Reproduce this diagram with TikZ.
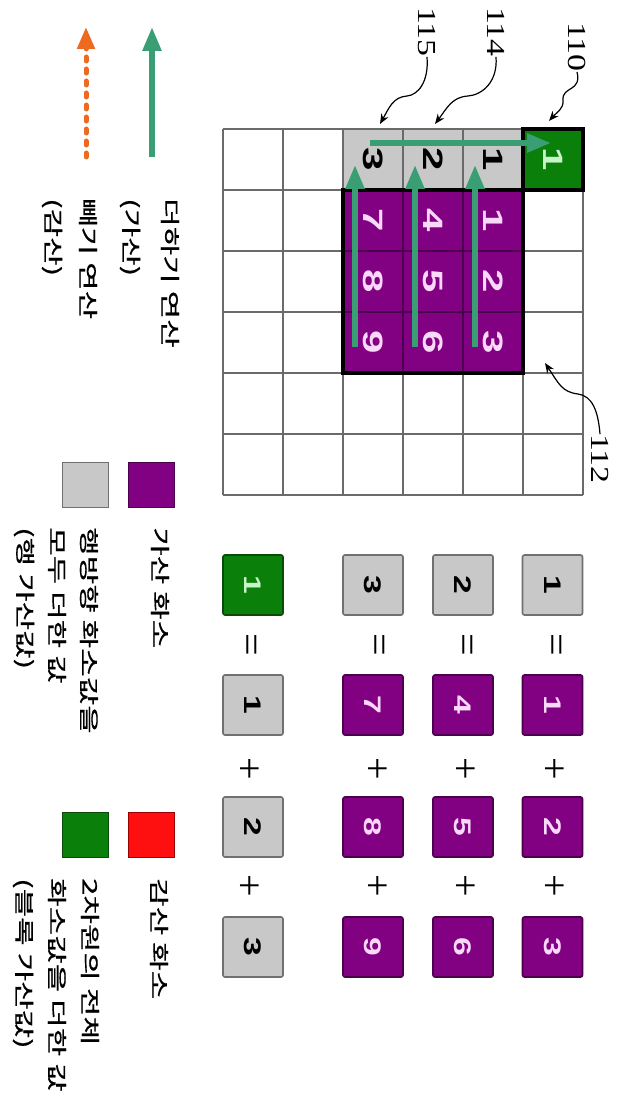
\documentclass[tikz,border=0pt]{standalone}
\usepackage{fontspec}
\setmainfont{Liberation Serif}
\newfontfamily\krfont[FakeBold=0.6]{Noto Sans CJK KR}
\newfontfamily\digfont{Liberation Sans}
\usetikzlibrary{arrows.meta}
\definecolor{purp}{HTML}{820082}
\definecolor{purpline}{HTML}{4A004A}
\definecolor{lgray}{HTML}{C8C8C8}
\definecolor{boxgray}{HTML}{707070}
\definecolor{gline}{HTML}{6A6A6A}
\definecolor{dgreen}{HTML}{0A800A}
\definecolor{dgreenline}{HTML}{0A4A0A}
\definecolor{arrgreen}{HTML}{3A9E74}
\definecolor{arrorange}{HTML}{EE6A1E}
\definecolor{pinktxt}{HTML}{FAD8FA}
\definecolor{lgreentxt}{HTML}{C8F5C8}
\definecolor{lred}{HTML}{FF1010}
\newcommand\rtxt[2][1.5]{\rotatebox{-90}{\scalebox{#1}[1]{#2}}}
\begin{document}
\begin{tikzpicture}[x=1pt,y=-1pt,
  gcell/.style={minimum width=60pt,minimum height=61pt,inner sep=0pt,outer sep=0pt,
    font=\digfont\bfseries\fontsize{28}{28}\selectfont},
  graycell/.style={gcell,fill=lgray,text=black},
  purpcell/.style={gcell,fill=purp,draw=purpline,line width=1.2pt,text=pinktxt},
  gridline/.style={draw=gline,line width=2.4pt},
  garrow/.style={draw=arrgreen,line width=5.5pt,-{Triangle[length=24pt,width=18pt]}},
  oarrow/.style={draw=arrorange,line width=5pt,line cap=round,dash pattern=on 4pt off 8pt,
    -{Triangle[length=22pt,width=17pt,fill=arrorange]}},
  leader/.style={draw=black,line width=1.2pt,-{Stealth[length=10pt,width=8pt]}},
  reflabel/.style={inner sep=0pt,font=\fontsize{26}{26}\selectfont},
  ktext/.style={inner sep=0pt,anchor=north,font=\krfont\fontsize{20}{22}\selectfont},
  lsq/.style={minimum width=46pt,minimum height=45pt,inner sep=0pt,line width=1pt},
  eqbox/.style={minimum size=60pt,inner sep=0pt,rounded corners=2pt,line width=1.6pt,
    font=\digfont\bfseries\fontsize{24}{24}\selectfont},
  eqgray/.style={eqbox,fill=lgray,draw=boxgray,text=black},
  eqpurp/.style={eqbox,fill=purp,draw=purpline,text=pinktxt},
  eqgreen/.style={eqbox,fill=dgreen,draw=dgreenline,text=lgreentxt},
  sign/.style={inner sep=0pt,font=\fontsize{40}{40}\selectfont}]
\useasboundingbox (0,0) rectangle (616,1099);
\fill[white] (0,0) rectangle (616,1099);

% ---- grid: gray cells (row sums)
\node[graycell] (g1) at (493,159.5) {\rtxt{1}};
\node[graycell] (g2) at (433,159.5) {\rtxt{2}};
\node[graycell] (g3) at (373,159.5) {\rtxt{3}};
% grid lines
\foreach \i in {0,...,6} {
  \draw[gridline] (223+60*\i,129) -- (223+60*\i,495);
  \draw[gridline] (223,129+61*\i) -- (583,129+61*\i);
}
% purple cells
\node[purpcell] (p1) at (493,220.5) {\rtxt{1}};
\node[purpcell] (p2) at (493,281.5) {\rtxt{2}};
\node[purpcell] (p3) at (493,342.5) {\rtxt{3}};
\node[purpcell] (p4) at (433,220.5) {\rtxt{4}};
\node[purpcell] (p5) at (433,281.5) {\rtxt{5}};
\node[purpcell] (p6) at (433,342.5) {\rtxt{6}};
\node[purpcell] (p7) at (373,220.5) {\rtxt{7}};
\node[purpcell] (p8) at (373,281.5) {\rtxt{8}};
\node[purpcell] (p9) at (373,342.5) {\rtxt{9}};
\draw[line width=4pt] (p7.north west) rectangle (p3.south east);
% green block-sum cell
\node[gcell,fill=dgreen,draw=black,line width=4pt,text=lgreentxt] (gc) at (553,159.5) {\rtxt{1}};

% ---- addition arrows in grid
\coordinate (a1s) at (475,347); \coordinate (a1e) at (475,165);
\coordinate (a2s) at (415,347); \coordinate (a2e) at (415,165);
\coordinate (a3s) at (355,347); \coordinate (a3e) at (355,165);
\coordinate (ahs) at (370,143); \coordinate (ahe) at (551,143);
\draw[garrow] (a1s) -- (a1e);
\draw[garrow] (a2s) -- (a2e);
\draw[garrow] (a3s) -- (a3e);
\draw[garrow] (ahs) -- (ahe);

% ---- reference labels and leaders
\node[reflabel] (l110) at (577,47) {\rtxt[1.3]{110}};
\node[reflabel] (l114) at (496,32) {\rtxt[1.3]{114}};
\node[reflabel] (l115) at (427,32) {\rtxt[1.3]{115}};
\node[reflabel] (l112) at (600,459) {\rtxt[1.3]{112}};
\coordinate (t110) at (549,121);
\coordinate (t114) at (435,124);
\coordinate (t115) at (380,124);
\coordinate (t112) at (545,363);
\draw[leader] (l110.south) .. controls (582,92) and (562,86) .. (563,100) .. controls (564,109) and (556,113) .. (t110);
\draw[leader] (l114.south) .. controls (498,82) and (482,95) .. (468,96) .. controls (452,97) and (447,108) .. (t114);
\draw[leader] (l115.south) .. controls (429,82) and (418,95) .. (407,96) .. controls (393,97) and (389,108) .. (t115);
\draw[leader] (l112.north) .. controls (598,410) and (592,396) .. (578,394) .. controls (562,392) and (559,384) .. (t112);

% ---- legend arrows
\coordinate (lgs) at (152,157); \coordinate (lge) at (152,27);
\coordinate (los) at (86,157); \coordinate (loe) at (86,27);
\draw[garrow] (lgs) -- (lge);
\draw[oarrow] (los) -- (loe);
\node[ktext] (k1) at (170,198) {\rtxt[1.55]{더하기 연산}};
\node[ktext] (k2) at (130,198) {\rtxt[1.55]{(가산)}};
\node[ktext] (k3) at (88,198) {\rtxt[1.55]{빼기 연산}};
\node[ktext] (k4) at (52,198) {\rtxt[1.55]{(감산)}};

% ---- legend squares
\node[lsq,fill=purp,draw=purpline] (sqp) at (151,484.5) {};
\node[lsq,fill=lgray,draw=boxgray] (sqg) at (85.5,484.5) {};
\node[lsq,fill=lred,draw=red!60!black] (sqr) at (151,834.5) {};
\node[lsq,fill=dgreen,draw=dgreenline] (sqd) at (85.5,834.5) {};
\node[ktext] (k5) at (160,527) {\rtxt[1.55]{가산 화소}};
\node[ktext] (k6) at (89,527) {\rtxt[1.55]{행방향 화소값을}};
\node[ktext] (k7) at (57,527) {\rtxt[1.55]{모두 더한 값}};
\node[ktext] (k8) at (24,527) {\rtxt[1.55]{(행 가산값)}};
\node[ktext] (k9) at (159,878) {\rtxt[1.55]{감산 화소}};
\node[ktext] (k10) at (90,878) {\rtxt[1.55]{2차원의 전체}};
\node[ktext] (k11) at (57,878) {\rtxt[1.55]{화소값을 더한 값}};
\node[ktext] (k12) at (23,878) {\rtxt[1.55]{(블록 가산값)}};

% ---- equations
\node[eqgreen] (e01) at (253,585) {\rtxt[1.4]{1}};
\node[eqgray]  (e11) at (373,585) {\rtxt[1.4]{3}};
\node[eqgray]  (e21) at (463,585) {\rtxt[1.4]{2}};
\node[eqgray]  (e31) at (552.5,585) {\rtxt[1.4]{1}};
\node[eqgray]  (e02) at (253,705) {\rtxt[1.4]{1}};
\node[eqpurp]  (e12) at (373,705) {\rtxt[1.4]{7}};
\node[eqpurp]  (e22) at (463,705) {\rtxt[1.4]{4}};
\node[eqpurp]  (e32) at (552.5,705) {\rtxt[1.4]{1}};
\node[eqgray]  (e03) at (253,827) {\rtxt[1.4]{2}};
\node[eqpurp]  (e13) at (373,827) {\rtxt[1.4]{8}};
\node[eqpurp]  (e23) at (463,827) {\rtxt[1.4]{5}};
\node[eqpurp]  (e33) at (552.5,827) {\rtxt[1.4]{2}};
\node[eqgray]  (e04) at (253,947) {\rtxt[1.4]{3}};
\node[eqpurp]  (e14) at (373,947) {\rtxt[1.4]{9}};
\node[eqpurp]  (e24) at (463,947) {\rtxt[1.4]{6}};
\node[eqpurp]  (e34) at (552.5,947) {\rtxt[1.4]{3}};
\foreach \c/\x in {0/248,1/376,2/464,3/553} {
  \node[sign] (eq\c) at (\x,645) {\rtxt[1.0]{=}};
  \node[sign] (pa\c) at (\x,769) {\rtxt[1.0]{+}};
  \node[sign] (pb\c) at (\x,886) {\rtxt[1.0]{+}};
}
\end{tikzpicture}
\end{document}
